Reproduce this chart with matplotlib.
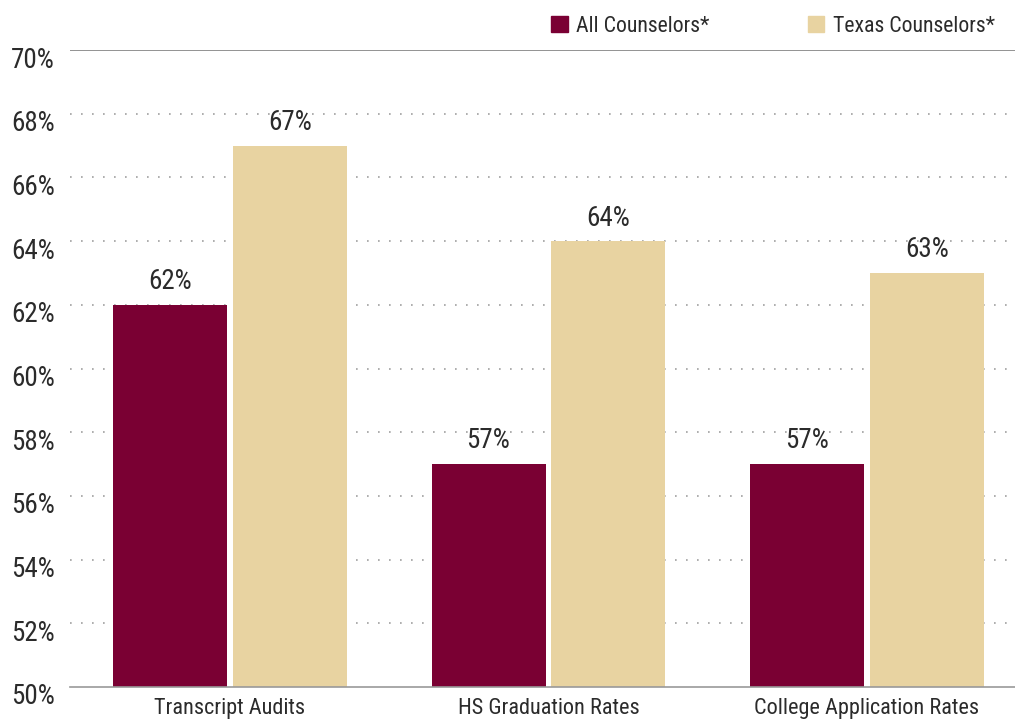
import matplotlib
matplotlib.use('Agg')
import matplotlib.pyplot as plt
import matplotlib.transforms as mtransforms
import numpy as np
from matplotlib.patches import Patch

plt.rcParams['font.family'] = ['Roboto Condensed', 'Roboto', 'DejaVu Sans']

# survey results (percent of counselors)
categories = ['Transcript Audits', 'HS Graduation Rates', 'College Application Rates']
all_counselors = [62, 57, 57]
texas_counselors = [67, 64, 63]
series_names = ['All Counselors*', 'Texas Counselors*']
yticks = [50, 52, 54, 56, 58, 60, 62, 64, 66, 68, 70]

maroon = '#7a0033'
tan = '#e8d3a1'
text_color = '#2b2b2b'

fig = plt.figure(figsize=(10.15, 7.23), dpi=100)
ax = fig.add_axes([70 / 1015, 36 / 723, 945 / 1015, 637 / 723])

x = np.arange(len(categories))
width = 0.358
gap = 0.009
bars_a = ax.bar(x - width / 2 - gap, all_counselors, width, color=maroon, zorder=3)
bars_b = ax.bar(x + width / 2 + gap, texas_counselors, width, color=tan, zorder=3)

for bars, vals in ((bars_a, all_counselors), (bars_b, texas_counselors)):
    for b, v in zip(bars, vals):
        ax.text(b.get_x() + b.get_width() / 2, v + 0.3, f'{v}%', ha='center', va='bottom',
                fontsize=19.5, color=text_color)

ax.set_ylim(50, 70)
ax.set_xlim(-0.502, 2.465)
ax.set_yticks(yticks)
ax.set_yticklabels([f'{t}%' for t in yticks], fontsize=19.5, color=text_color)
ax.set_xticks(x)
ax.set_xticklabels(categories, fontsize=16, color=text_color)
ax.tick_params(axis='both', length=0)
ax.tick_params(axis='y', pad=11)
ax.tick_params(axis='x', pad=8)

# y labels sit a little below their gridline
shift = mtransforms.ScaledTranslation(0, -0.07, fig.dpi_scale_trans)
for lbl in ax.get_yticklabels():
    lbl.set_transform(lbl.get_transform() + shift)

# dotted gridlines between the top and bottom rules
for t in yticks[1:-1]:
    ax.axhline(t, color='#a0a0a0', lw=1.2, linestyle=(0, (1, 5.6)), zorder=1)
ax.axhline(70, color='#808080', lw=1.2, zorder=2)

for s in ['top', 'right', 'left']:
    ax.spines[s].set_visible(False)
ax.spines['bottom'].set_color('#999999')
ax.spines['bottom'].set_linewidth(1.2)
ax.spines['bottom'].set_zorder(4)

handles = [Patch(color=maroon), Patch(color=tan)]
leg = fig.legend(handles, series_names, loc='upper right', bbox_to_anchor=(0.993, 0.996),
                 ncol=2, frameon=False, fontsize=15.7, handlelength=0.75, handleheight=0.75,
                 handletextpad=0.4, columnspacing=4.5, borderaxespad=0.2)
for t in leg.get_texts():
    t.set_color(text_color)

fig.savefig('out.png', dpi=100)
